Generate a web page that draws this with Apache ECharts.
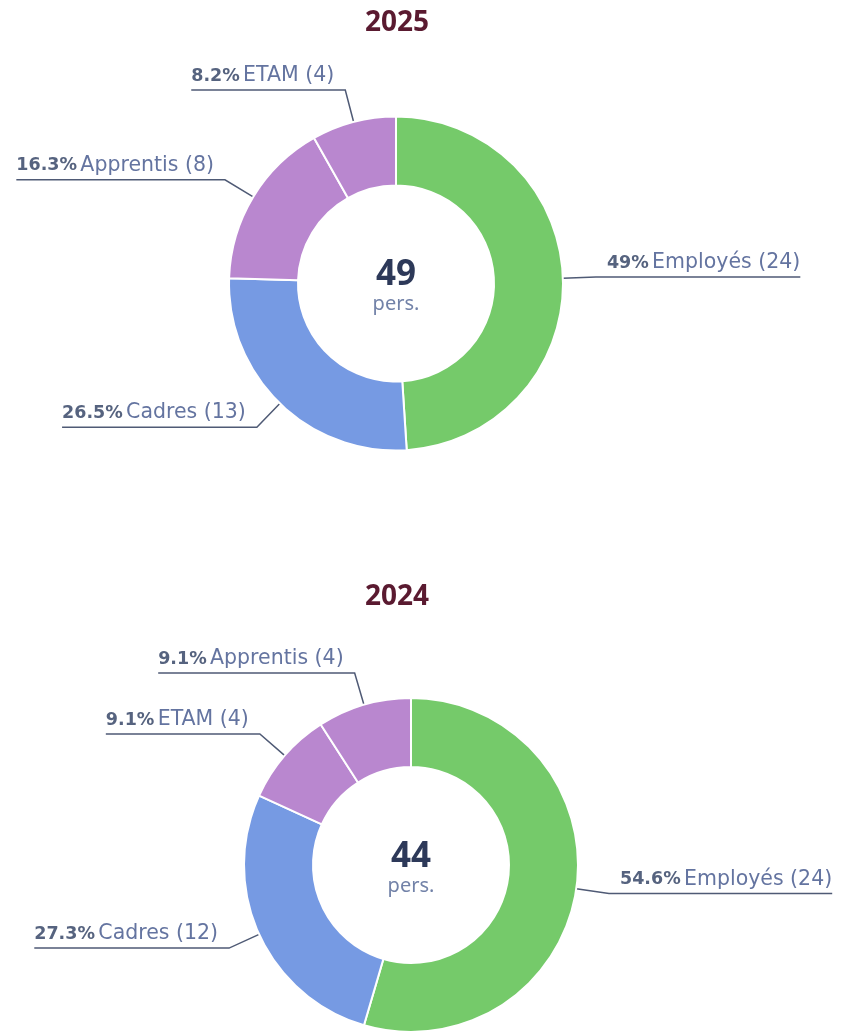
<!DOCTYPE html>
<html><head><meta charset="utf-8">
<script src="https://cdn.jsdelivr.net/npm/echarts@6/dist/echarts.min.js"></script>
<style>html,body{margin:0;padding:0;background:#fff}#c{width:848px;height:1035px}</style>
</head><body><div id="c"></div>
<script>
// ---- data ----
const years = ['2025', '2024'];
const categories2025 = ['Employés', 'Cadres', 'Apprentis', 'ETAM'];
const values2025 = [24, 13, 8, 4];
const percents2025 = ['49', '26.5', '16.3', '8.2'];
const categories2024 = ['Employés', 'Cadres', 'ETAM', 'Apprentis'];
const values2024 = [24, 12, 4, 4];
const percents2024 = ['54.6', '27.3', '9.1', '9.1'];
const unitLabel = 'pers.';

// ---- styles ----
const colorMap = { 'Employés': '#75ca6a', 'Cadres': '#769ae3', 'Apprentis': '#b987cf', 'ETAM': '#b987cf' };
const FONT = '"DejaVu Sans", sans-serif';
const centers = [[396, 283.5], [411, 865]];
const titlePos = [[397, 23], [397, 597]];

function makeSeries(cats, vals, pcts, center) {
  return {
    type: 'pie',
    center: center,
    radius: [98, 167],
    startAngle: 90,
    clockwise: true,
    avoidLabelOverlap: false,
    silent: true,
    animation: false,
    itemStyle: { borderColor: '#ffffff', borderWidth: 2 },
    label: {
      show: true,
      position: 'outside',
      distanceToLabelLine: 4,
      padding: [0, 0, 28, 0],
      formatter: function (p) {
        return '{p|' + pcts[p.dataIndex] + '%} {n|' + p.name + ' (' + p.value + ')}';
      },
      rich: {
        p: { fontFamily: FONT, fontWeight: 'bold', fontSize: 17.5, color: '#56637f' },
        n: { fontFamily: FONT, fontSize: 20.5, color: '#6474a0' }
      }
    },
    labelLine: { show: true, length: 33, length2: 7, smooth: false, lineStyle: { color: '#4f5a75', width: 1.5 } },
    labelLayout: function (params) {
      const pts = params.labelLinePoints;
      if (!pts) return {};
      const isLeft = pts[2][0] < pts[1][0];
      pts[2][0] = isLeft ? params.labelRect.x : params.labelRect.x + params.labelRect.width;
      return { labelLinePoints: pts };
    },
    data: cats.map(function (c, i) { return { name: c, value: vals[i], itemStyle: { color: colorMap[c] } }; })
  };
}

function render() {
  const totals = [values2025.reduce((a, b) => a + b, 0), values2024.reduce((a, b) => a + b, 0)];
  const graphics = [];
  years.forEach(function (y, i) {
    graphics.push({ type: 'text', x: titlePos[i][0], y: titlePos[i][1], silent: true,
      style: { text: y, fontFamily: '"Noto Sans", sans-serif', fontWeight: 'bold', fontSize: 28, fill: '#5a1a30', align: 'center', verticalAlign: 'middle' } });
    graphics.push({ type: 'text', x: centers[i][0], y: centers[i][1] - 8, silent: true, z: 10,
      style: { text: String(totals[i]), fontFamily: '"Noto Sans", sans-serif', fontWeight: 'bold', fontSize: 35, fill: '#2d3959', align: 'center', verticalAlign: 'middle' } });
    graphics.push({ type: 'text', x: centers[i][0], y: centers[i][1] + 21, silent: true, z: 10,
      style: { text: unitLabel, fontFamily: '"Noto Sans", sans-serif', fontSize: 20, fill: '#7282a8', align: 'center', verticalAlign: 'middle' } });
  });

  const chart = echarts.init(document.getElementById('c'), null, { renderer: 'canvas' });
  chart.setOption({
    backgroundColor: '#ffffff',
    animation: false,
    series: [
      makeSeries(categories2025, values2025, percents2025, centers[0]),
      makeSeries(categories2024, values2024, percents2024, centers[1])
    ],
    graphic: graphics
  });
}

let done = false;
function go() { if (!done) { done = true; render(); } }
if (document.fonts && document.fonts.load) {
  Promise.all([
    document.fonts.load('bold 28px "Noto Sans"'),
    document.fonts.load('19px "Noto Sans"'),
    document.fonts.load('20px "DejaVu Sans"'),
    document.fonts.load('bold 18px "DejaVu Sans"')
  ]).then(go, go);
  setTimeout(go, 800);
} else { go(); }
</script></body></html>
